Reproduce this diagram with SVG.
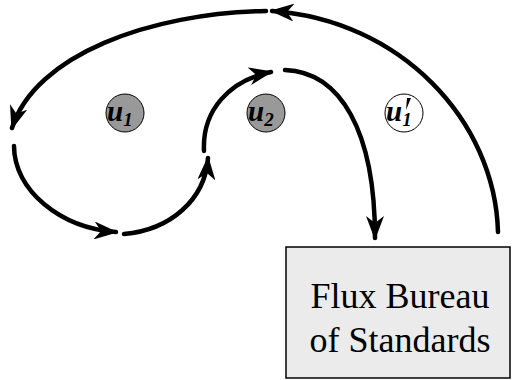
<svg xmlns="http://www.w3.org/2000/svg" width="512" height="380" viewBox="0 0 512 380">
<style>
.c{fill:none;stroke:#000;stroke-width:4.5;stroke-linecap:round}
.n{stroke:#000;stroke-width:1}
.lab{font-family:"Liberation Serif",serif;font-style:italic;font-weight:bold;font-size:29px}
.sub{font-size:19px}
.box{font-family:"Liberation Serif",serif;font-size:36px;text-anchor:middle}
</style>
<defs>
<marker id="a" viewBox="0 0 24 18" refX="22" refY="9" markerWidth="24" markerHeight="18" markerUnits="userSpaceOnUse" orient="auto">
<path d="M0,0 L24,9 L0,18 L7,9 Z" fill="#000"/>
</marker>
</defs>
<g id="connectors">
<path class="c" d="M266,11 C150,13 35,55 12,128" marker-end="url(#a)"/>
<path class="c" d="M498,232 C495,120 400,20 272,11" marker-end="url(#a)"/>
<path class="c" d="M14,146 C14,190 60,228 116,232" marker-end="url(#a)"/>
<path class="c" d="M124,234 C170,230 205,200 208,158" marker-end="url(#a)"/>
<path class="c" d="M204,151 C202,110 230,80 271,72" marker-end="url(#a)"/>
<path class="c" d="M285,70 C340,72 375,130 375,238" marker-end="url(#a)"/>
</g>
<g id="u1">
<circle class="n" cx="125" cy="113" r="19" fill="#999"/>
<text class="lab" x="107" y="121">u<tspan class="sub" dy="5">1</tspan></text>
</g>
<g id="u2">
<circle class="n" cx="266" cy="113" r="19" fill="#999"/>
<text class="lab" x="248" y="121">u<tspan class="sub" dy="5">2</tspan></text>
</g>
<g id="u1p">
<circle class="n" cx="404" cy="113" r="19" fill="#fff"/>
<text class="lab" x="386" y="121">u<tspan class="sub" dy="5">1</tspan></text>
<path d="M407,98 L411,98 L406,110 Z" fill="#000"/>
</g>
<g id="fbs">
<rect x="286" y="247" width="224" height="131" fill="#ebebeb" stroke="#000" stroke-width="1.5"/>
<text class="box" x="400" y="308">Flux Bureau</text>
<text class="box" x="400" y="352">of Standards</text>
</g>
</svg>
